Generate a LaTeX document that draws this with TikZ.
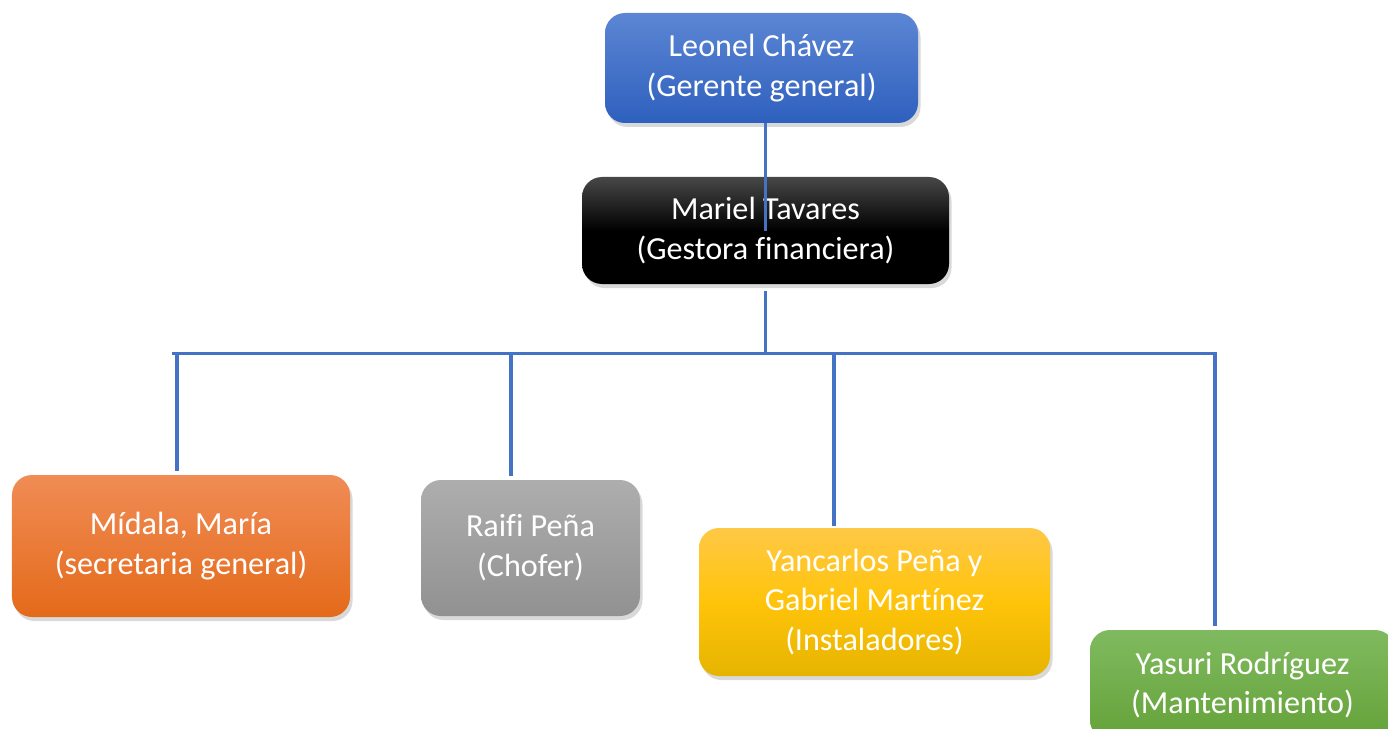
\documentclass[tikz,border=0pt]{standalone}
\usepackage{fontspec}
\setmainfont{Carlito}[Ligatures=NoCommon]
\usetikzlibrary{shadows}
\definecolor{linkblue}{HTML}{4472C4}
\tikzset{
  person/.style={rounded corners=0.4cm, align=center, text=white, inner sep=0pt,
    font=\fontsize{18.3}{22.6}\selectfont,
    drop shadow={shadow xshift=0.05cm, shadow yshift=-0.08cm, opacity=0.3}},
  link/.style={draw=linkblue, line width=2.2pt},
  thinlink/.style={draw=linkblue, line width=1.3pt},
}

\begin{document}
\begin{tikzpicture}
\useasboundingbox (0,0) rectangle (27.76,-14.58);

\node[person, minimum width=6.26cm, minimum height=2.2cm, top color={rgb,255:red,92;green,134;blue,212}, bottom color={rgb,255:red,46;green,96;blue,190}] (leonel) at (15.23,-1.36) {Leonel Chávez\\(Gerente general)};
\node[person, minimum width=7.34cm, minimum height=2.14cm, top color=black!72, bottom color=black, middle color=black] (mariel) at (15.31,-4.61) {Mariel Tavares\\(Gestora financiera)};

\node[person, minimum width=6.76cm, minimum height=2.84cm, top color={rgb,255:red,240;green,140;blue,85}, bottom color={rgb,255:red,228;green,106;blue,26}] (midala) at (3.62,-10.92) {Mídala, María\\(secretaria general)};
\node[person, minimum width=4.38cm, minimum height=2.72cm, top color=black!32, bottom color=black!43] (raifi) at (10.61,-10.96) {Raifi Peña\\(Chofer)};
\node[person, minimum width=7.02cm, minimum height=2.96cm, top color={rgb,255:red,255;green,200;blue,70}, bottom color={rgb,255:red,230;green,180;blue,0}, middle color={rgb,255:red,255;green,196;blue,10}] (yancarlos) at (17.49,-12.04) {Yancarlos Peña y\\Gabriel Martínez\\(Instaladores)};
\node[person, minimum width=6.1cm, minimum height=2.2cm, top color={rgb,255:red,128;green,186;blue,96}, bottom color={rgb,255:red,100;green,162;blue,56}] (yasuri) at (24.85,-13.7) {Yasuri Rodríguez\\(Mantenimiento)};

\coordinate (bar-a) at (3.54,-7.07);
\coordinate (bar-b) at (10.22,-7.07);
\coordinate (bar-c) at (16.68,-7.07);
\coordinate (bar-d) at (24.3,-7.07);
\coordinate (bar-m) at (15.31,-7.07);

\path[thinlink] (leonel.south -| mariel.center) edge (mariel.center);
\path[link] ([yshift=-0.14cm]mariel.south) edge (bar-m);
\draw[link] ([xshift=-0.1cm]bar-a) -- ([xshift=0.04cm]bar-d);
\path[link] (bar-a) edge ([yshift=0.08cm]bar-a |- midala.north);
\path[link] (bar-b) edge ([yshift=0.08cm]bar-b |- raifi.north);
\path[link] (bar-c) edge ([yshift=0.04cm]bar-c |- yancarlos.north);
\path[link] (bar-d) edge ([yshift=0.08cm]bar-d |- yasuri.north);
\end{tikzpicture}
\end{document}
